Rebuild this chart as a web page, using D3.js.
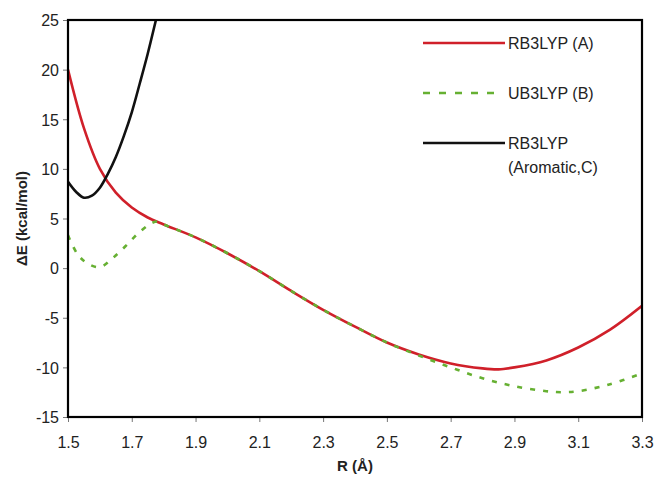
<!DOCTYPE html>
<html>
<head>
<meta charset="utf-8">
<script src="https://cdn.jsdelivr.net/npm/d3@7"></script>
<style>
  body { margin: 0; background: #fff; }
  svg { font-family: Arial, "Liberation Sans", sans-serif; }
  .tick text { font-size: 16px; fill: #222; }
</style>
</head>
<body>
<svg id="chart" width="655" height="477"></svg>
<script>
// values
const rA = [1.5, 1.55, 1.6, 1.65, 1.7, 1.75, 1.8, 1.9, 2.0, 2.1, 2.2, 2.3, 2.4, 2.5, 2.6, 2.7, 2.8, 2.85, 2.9, 3.0, 3.1, 3.2, 3.3];
const eA = [20, 14.1, 10.0, 7.6, 6.1, 5.1, 4.4, 3.1, 1.5, -0.3, -2.3, -4.2, -5.9, -7.5, -8.7, -9.6, -10.1, -10.2, -10.0, -9.3, -8.0, -6.2, -3.8];

const rB = [1.5, 1.53, 1.56, 1.6, 1.64, 1.68, 1.72, 1.76, 1.78, 1.8, 1.9, 2.0, 2.1, 2.2, 2.3, 2.4, 2.5, 2.6, 2.7, 2.8, 2.9, 3.0, 3.05, 3.1, 3.2, 3.3];
const eB = [3.3, 1.4, 0.5, 0.1, 1.0, 2.2, 3.5, 4.5, 4.7, 4.4, 3.1, 1.5, -0.3, -2.3, -4.2, -5.9, -7.5, -8.8, -10.0, -11.1, -11.9, -12.4, -12.5, -12.4, -11.7, -10.6];

const rC = [1.5, 1.525, 1.55, 1.575, 1.6, 1.625, 1.65, 1.675, 1.7, 1.725, 1.75, 1.775, 1.8];
const eC = [8.7, 7.7, 7.1, 7.3, 8.1, 9.5, 11.2, 13.3, 15.7, 18.6, 21.6, 24.9, 28.3];

const xTicks = [1.5, 1.7, 1.9, 2.1, 2.3, 2.5, 2.7, 2.9, 3.1, 3.3];
const yTicks = [-15, -10, -5, 0, 5, 10, 15, 20, 25];

const series = [
  { name: "RB3LYP (A)", r: rA, e: eA, color: "#d0202a", dash: null },
  { name: "RB3LYP (Aromatic,C)", r: rC, e: eC, color: "#111", dash: null },
  { name: "UB3LYP (B)", r: rB, e: eB, color: "#66b032", dash: "5,8" }
];

const margin = { left: 68, right: 13, top: 20, bottom: 60 };
const svg = d3.select("#chart");
const W = 655, H = 477;
const x = d3.scaleLinear().domain([1.5, 3.3]).range([margin.left, W - margin.right]);
const y = d3.scaleLinear().domain([-15, 25]).range([H - margin.bottom, margin.top]);

svg.append("clipPath").attr("id", "plot")
  .append("rect")
  .attr("x", x(1.5)).attr("y", y(25))
  .attr("width", x(3.3) - x(1.5)).attr("height", y(-15) - y(25));

// axes
const xAxis = d3.axisBottom(x).tickValues(xTicks).tickFormat(d3.format(".1f")).tickSize(5).tickSizeOuter(0);
const yAxis = d3.axisLeft(y).tickValues(yTicks).tickFormat(d => d).tickSize(5).tickSizeOuter(0);

const gx = svg.append("g").attr("transform", `translate(0,${y(-15)})`).call(xAxis);
gx.select(".domain").remove();
gx.selectAll(".tick line").attr("stroke", "#777");
gx.selectAll(".tick text").attr("dy", "1.45em");

const gy = svg.append("g").attr("transform", `translate(${x(1.5)},0)`).call(yAxis);
gy.select(".domain").remove();
gy.selectAll(".tick line").attr("stroke", "#777");
gy.selectAll(".tick text").attr("x", -9).attr("dy", "0.36em");

// curves
const line = d3.line().curve(d3.curveCatmullRom.alpha(0.5));
const plot = svg.append("g").attr("clip-path", "url(#plot)");
series.forEach(s => {
  plot.append("path")
    .attr("d", line(s.r.map((r, i) => [x(r), y(s.e[i])])))
    .attr("fill", "none")
    .attr("stroke", s.color)
    .attr("stroke-width", 2.6)
    .attr("stroke-dasharray", s.dash);
});

// frame
svg.append("rect")
  .attr("x", x(1.5)).attr("y", y(25))
  .attr("width", x(3.3) - x(1.5)).attr("height", y(-15) - y(25))
  .attr("fill", "none").attr("stroke", "#000").attr("stroke-width", 2.2);

// legend
const legend = [
  { label: ["RB3LYP (A)"], color: "#d0202a", dash: null, y: 43, x2: 505 },
  { label: ["UB3LYP (B)"], color: "#66b032", dash: "7,9", y: 93, x2: 495 },
  { label: ["RB3LYP", "(Aromatic,C)"], color: "#111", dash: null, y: 143, x2: 505 }
];
const lg = svg.append("g");
legend.forEach(l => {
  lg.append("line")
    .attr("x1", 423).attr("x2", l.x2).attr("y1", l.y).attr("y2", l.y)
    .attr("stroke", l.color).attr("stroke-width", 2.6)
    .attr("stroke-dasharray", l.dash);
  const t = lg.append("text").attr("x", 508).attr("y", l.y + 6)
    .attr("font-size", 16).attr("fill", "#222");
  l.label.forEach((s, i) => t.append("tspan").attr("x", 508).attr("dy", i ? 24 : 0).text(s));
});

// axis titles
svg.append("text")
  .attr("x", (x(1.5) + x(3.3)) / 2).attr("y", 471)
  .attr("text-anchor", "middle").attr("font-weight", "bold").attr("font-size", 15)
  .attr("fill", "#222").text("R (Å)");
svg.append("text")
  .attr("transform", `translate(27,${(y(25) + y(-15)) / 2}) rotate(-90)`)
  .attr("text-anchor", "middle").attr("font-weight", "bold").attr("font-size", 15)
  .attr("fill", "#222").text("ΔE (kcal/mol)");
</script>
</body>
</html>
